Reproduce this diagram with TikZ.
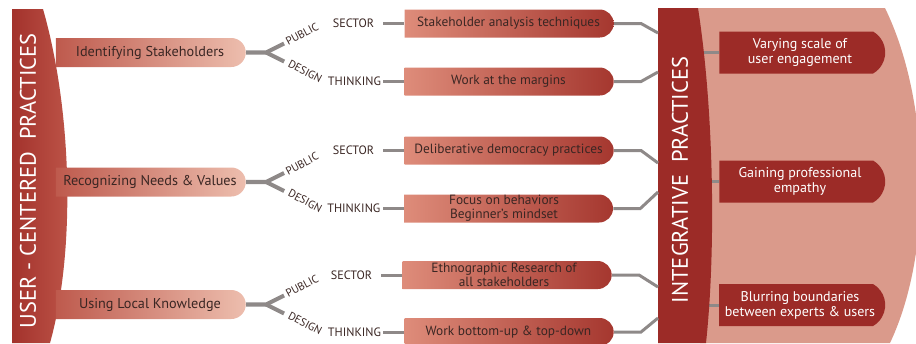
\documentclass[tikz,border=0pt]{standalone}
\usepackage{fontspec}
\setmainfont{PT Sans}
\usepackage{tikz}
\usetikzlibrary{shapes.misc, positioning}

\definecolor{bardark}{HTML}{A3322C}
\definecolor{barlight}{HTML}{C0584B}
\definecolor{rosedark}{HTML}{BE5A4D}
\definecolor{roselight}{HTML}{EDBEAE}
\definecolor{boxlight}{HTML}{DE8C7A}
\definecolor{boxdark}{HTML}{A5372F}
\definecolor{wine}{HTML}{9C2B27}
\definecolor{blush}{HTML}{DA9A8B}
\definecolor{wiregray}{HTML}{8E8988}
\definecolor{ink}{HTML}{3A2623}

\begin{document}
\begin{tikzpicture}[x=0.02cm, y=-0.02cm,
  every node/.style={font=\fontsize{7.6}{7.9}\selectfont, text=ink},
  branch/.style={rounded rectangle, rounded rectangle left arc=none,
    left color=rosedark, right color=roselight, font=\fontsize{8.1}{8.1}\selectfont,
    minimum width=3.8cm, minimum height=0.58cm, inner sep=0pt},
  practice/.style={rounded rectangle, rounded rectangle left arc=none,
    left color=boxlight, right color=boxdark, align=center,
    minimum width=4.18cm, minimum height=0.56cm, inner sep=0pt},
  outcome/.style={rounded rectangle, rounded rectangle left arc=none,
    rounded rectangle arc length=120, fill=wine, text=white, align=center,
    font=\fontsize{8}{8.6}\selectfont,
    minimum width=3.32cm, minimum height=0.84cm, inner sep=0pt},
  wire/.style={draw=wiregray, line width=1.7pt},
  fork/.style={draw=wiregray, line width=2.3pt},
  sidetag/.style={font=\fontsize{6.9}{6.9}\selectfont, inner sep=0pt},
  slanttag/.style={font=\fontsize{6.3}{6.3}\selectfont, inner sep=0pt, anchor=base west},
  bigtitle/.style={font=\fontsize{12.8}{12.8}\selectfont, text=white, rotate=90}]

  \useasboundingbox (0,0) rectangle (916,343);

  % right hand side
  \fill[blush] (698,8) -- (885,8) .. controls (930,100) and (934,250) .. (890,343) -- (700,343) -- cycle;

  \node (o1) [outcome] at (800,52.5) {Varying scale of\\user engagement};
  \node (o2) [outcome] at (800,181.5) {Gaining professional\\empathy};
  \node (o3) [outcome] at (800,305) {Blurring boundaries\\between experts \& users};

  \draw[wire] (690,52.5) -- (o1.west);
  \draw[wire] (690,181.5) -- (o2.west);
  \draw[wire] (690,305) -- (o3.west);

  \fill[wine] (658,8) -- (698,8) .. controls (714,110) and (716,250) .. (706,343) -- (658,343) -- cycle;
  \node (integ) [bigtitle] at (680,180) {INTEGRATIVE\ \ PRACTICES};

  \coordinate (j1) at (658,33);
  \coordinate (j2) at (658,72);
  \coordinate (j3) at (658,163);
  \coordinate (j4) at (658,192);
  \coordinate (j5) at (658,287);
  \coordinate (j6) at (658,318);

  % practices
  \node (p1) [practice] at (508.5,23.5) {Stakeholder analysis techniques};
  \node (p2) [practice] at (508.5,81.5) {Work at the margins};
  \node (p3) [practice] at (508.5,150.5) {Deliberative democracy practices};
  \node (p4) [practice] at (504,208.5) {Focus on behaviors\\Beginner's mindset};
  \node (p5) [practice] at (504,275) {Ethnographic Research of\\all stakeholders};
  \node (p6) [practice] at (508.5,332) {Work bottom-up \& top-down};

  \draw[wire] (p1.east) -- ++(27,0) -- (j1);
  \draw[wire] (p2.east) -- ++(27,0) -- (j2);
  \draw[wire] (p3.east) -- ++(27,0) -- (j3);
  \draw[wire] (p4.east) -- ++(27,0) -- (j4);
  \draw[wire] (p5.east) -- ++(27,0) -- (j5);
  \draw[wire] (p6.east) -- ++(27,0) -- (j6);

  \node (s1) [sidetag, left=0.6cm of p1] {SECTOR};
  \node (t1) [sidetag, left=0.46cm of p2] {THINKING};
  \node (s2) [sidetag, left=0.6cm of p3] {SECTOR};
  \node (t2) [sidetag, left=0.46cm of p4] {THINKING};
  \node (s3) [sidetag, left=0.6cm of p5] {SECTOR};
  \node (t3) [sidetag, left=0.46cm of p6] {THINKING};

  \draw[wire] (p1.west) -- ++(-21,0);
  \draw[wire] (p2.west) -- ++(-21,0);
  \draw[wire] (p3.west) -- ++(-21,0);
  \draw[wire] (p4.west) -- ++(-21,0);
  \draw[wire] (p5.west) -- ++(-21,0);
  \draw[wire] (p6.west) -- ++(-21,0);

  % user-centered practices
  \shade[left color=bardark, right color=barlight] (12,9) -- (43,9) .. controls (72,110) and (76,250) .. (50,343) -- (12,343) -- cycle;
  \node (user) [bigtitle] at (28,181) {USER - CENTERED\ \ PRACTICES};

  \node (b1) [branch] at (150,52.5) {Identifying Stakeholders};
  \node (b2) [branch] at (150,182) {Recognizing Needs \& Values};
  \node (b3) [branch] at (150,304.5) {Using Local Knowledge};

  \draw[fork] (b1.east) -- ++(20,0) coordinate (f1) -- ++(18,-9);
  \draw[fork] (f1) -- ++(18,9);
  \draw[fork] (b2.east) -- ++(20,0) coordinate (f2) -- ++(18,-9);
  \draw[fork] (f2) -- ++(18,9);
  \draw[fork] (b3.east) -- ++(20,0) coordinate (f3) -- ++(18,-9);
  \draw[fork] (f3) -- ++(18,9);

  \node (u1) [slanttag, rotate=28] at (288,46) {PUBLIC};
  \node (d1) [slanttag, rotate=-28] at (287,66) {DESIGN};
  \node (u2) [slanttag, rotate=28] at (288,175.5) {PUBLIC};
  \node (d2) [slanttag, rotate=-28] at (287,195.5) {DESIGN};
  \node (u3) [slanttag, rotate=28] at (288,298) {PUBLIC};
  \node (d3) [slanttag, rotate=-28] at (287,318) {DESIGN};
\end{tikzpicture}
\end{document}
